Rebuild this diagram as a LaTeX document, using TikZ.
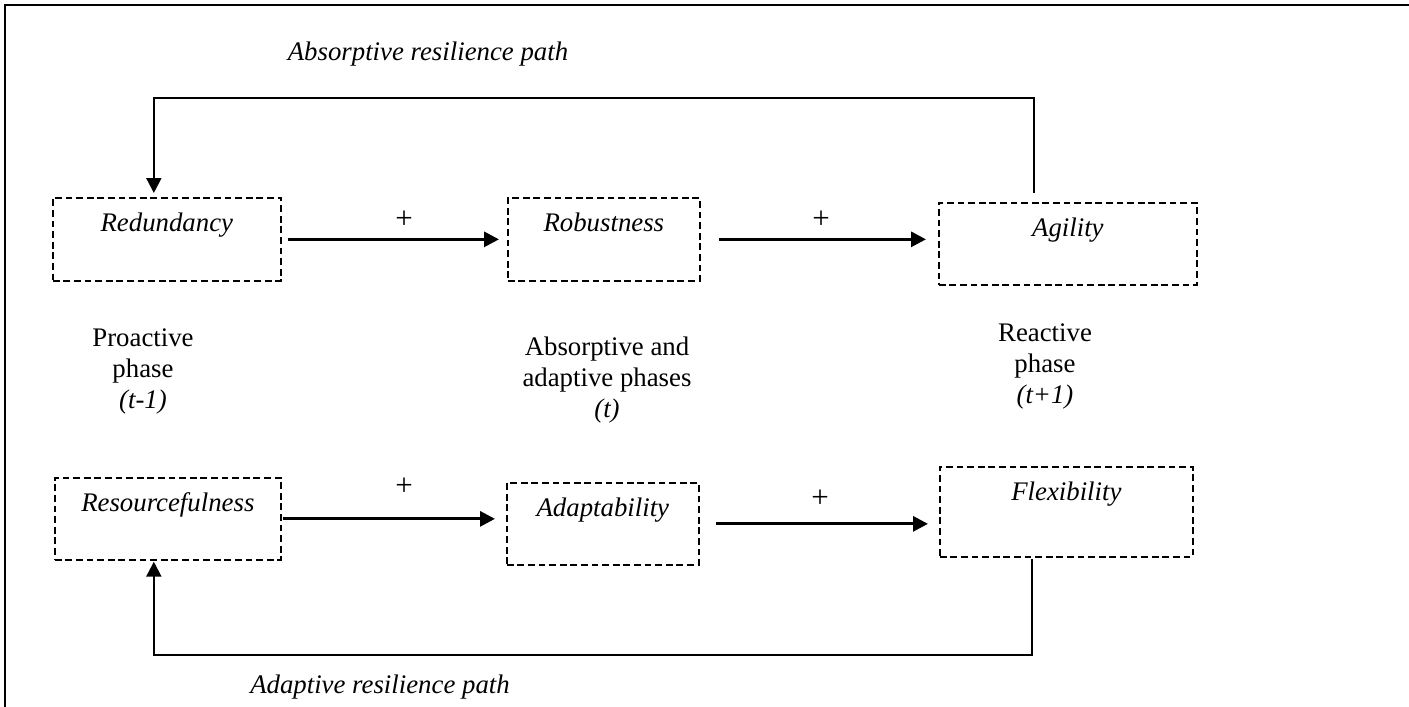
\documentclass[tikz,border=0pt]{standalone}
\usepackage{fontspec}
\setmainfont{Liberation Serif}
\usetikzlibrary{arrows.meta}
\begin{document}
\begin{tikzpicture}[x=0.5pt,y=-0.5pt,
  every node/.style={font=\fontsize{13.4}{15.5}\selectfont},
  stagebox/.style={draw, dash pattern=on 3.4pt off 1.9pt, line width=0.85pt, inner sep=0pt,
    anchor=north west, text height=17pt, font=\fontsize{13.4}{15}\selectfont\itshape},
  flowarrow/.style={line width=1.5pt, -{Triangle[length=7.5pt,width=7.5pt]}},
  looparrow/.style={line width=1pt, -{Triangle[length=7.5pt,width=7.5pt]}},
  phasetext/.style={align=center, inner sep=0pt},
  pathlabel/.style={font=\fontsize{13.4}{15}\selectfont\itshape, inner sep=0pt},
  plus/.style={inner sep=0pt, font=\fontsize{15.5}{16}\selectfont}]
\useasboundingbox (0,0) rectangle (1409,707);
\draw[line width=0.9pt] (1409,5) -- (5,5) -- (5,707);

% boxes
\node[stagebox, minimum width=114pt, text depth=24.5pt] (red) at (52,197) {Redundancy};
\node[stagebox, minimum width=96pt, text depth=24.5pt] (rob) at (507,197) {Robustness};
\node[stagebox, minimum width=129pt, text depth=24pt] (agi) at (938,202) {Agility};
\node[stagebox, minimum width=113pt, text depth=24pt] (res) at (54,477) {Resourcefulness};
\node[stagebox, minimum width=96pt, text depth=24pt] (ada) at (506,482) {Adaptability};
\node[stagebox, minimum width=126.5pt, text depth=28pt] (flx) at (939,466) {Flexibility};

% phase texts
\node[phasetext] (p1) at (143,371) {Proactive\\phase\\\textit{(t-1)}};
\node[phasetext] (p2) at (607,380) {Absorptive and\\adaptive phases\\\textit{(t)}};
\node[phasetext] (p3) at (1045,366) {Reactive\\phase\\\textit{(t+1)}};

% path labels
\node[pathlabel] (l1) at (428,54) {Absorptive resilience path};
\node[pathlabel] (l2) at (380,687) {Adaptive resilience path};

% plus signs
\node[plus] (s1) at (404,220) {+};
\node[plus] (s2) at (821,220) {+};
\node[plus] (s3) at (404,487) {+};
\node[plus] (s4) at (820,499) {+};

% flow arrows
\draw[flowarrow, shorten <=3pt, shorten >=4pt] (red.east) -- (red.east -| rob.west);
\draw[flowarrow, shorten <=9pt, shorten >=6pt] (rob.east) -- (rob.east -| agi.west);
\draw[flowarrow, shorten <=0.5pt, shorten >=5.5pt] (res.east) -- (res.east -| ada.west);
\draw[flowarrow, shorten <=8pt, shorten >=5.5pt] (ada.east) -- (ada.east -| flx.west);

% loops
\coordinate (toplevel) at (0,98);
\coordinate (botlevel) at (0,655);
\draw[looparrow] ([xshift=-17pt,yshift=4.5pt]agi.north) -- ([xshift=-17pt]agi.north |- toplevel)
  -- ([xshift=-6.5pt]red.north |- toplevel) -- ([xshift=-6.5pt,yshift=2pt]red.north);
\draw[looparrow] ([xshift=-17pt,yshift=-0.5pt]flx.south) -- ([xshift=-17pt]flx.south |- botlevel)
  -- ([xshift=-7pt]res.south |- botlevel) -- ([xshift=-7pt,yshift=-0.5pt]res.south);
\end{tikzpicture}
\end{document}
